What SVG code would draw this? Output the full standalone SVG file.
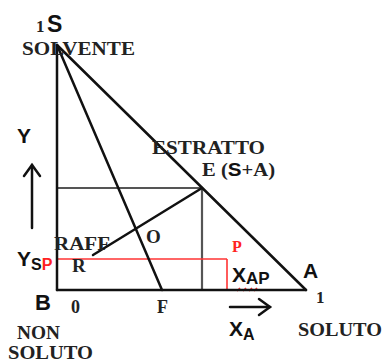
<svg xmlns="http://www.w3.org/2000/svg" width="386" height="363" viewBox="0 0 386 363">
<defs>
<style>
.ln{stroke:#111;stroke-width:2.5;fill:none;stroke-linecap:round}
.gr{stroke:#555;stroke-width:2.2;fill:none}
.rd{stroke:#f33;stroke-width:1.6;fill:none}
.sf{font-family:"Liberation Serif","Times New Roman",serif;font-weight:bold;fill:#222}
.ss{font-family:"Liberation Sans",Arial,sans-serif;font-weight:bold;fill:#111}
.red{fill:#f22}
</style>
</defs>
<rect width="386" height="363" fill="#fff"/>
<g id="connectors">
<line class="gr" x1="57" y1="188" x2="202" y2="188"/>
<line class="gr" x1="202" y1="188" x2="202" y2="290"/>
<line class="rd" x1="57" y1="259" x2="227" y2="259"/>
<line class="rd" x1="227" y1="259" x2="227" y2="290"/>
<path class="rd" d="M237 291 l3 -3 M243 291 l3 -3 M249 291 l3 -3 M254 291 l3 -3"/>
<line class="ln" x1="57" y1="45" x2="57" y2="290"/>
<line class="ln" x1="57" y1="290" x2="306" y2="290"/>
<line class="ln" x1="57" y1="45" x2="306" y2="290"/>
<line class="ln" x1="57" y1="45" x2="162" y2="290"/>
<line class="ln" x1="93" y1="255" x2="202" y2="188"/>
<line class="ln" x1="32" y1="228" x2="32" y2="165"/>
<path class="ln" d="M24 176 L32 165 L40 176"/>
<line class="ln" x1="230" y1="307" x2="270" y2="307"/>
<path class="ln" d="M259 299 L270 307 L259 315"/>
</g>
<g id="S">
<text class="sf" x="36" y="32" font-size="17">1</text>
<text class="ss" x="47" y="32" font-size="23">S</text>
<text class="sf" x="22" y="55" font-size="19" textLength="113" lengthAdjust="spacingAndGlyphs">SOLVENTE</text>
</g>
<g id="Y">
<text class="ss" x="17" y="143" font-size="21">Y</text>
</g>
<g id="E">
<text class="sf" x="152" y="154" font-size="19" textLength="113" lengthAdjust="spacingAndGlyphs">ESTRATTO</text>
<text class="sf" x="202" y="176" font-size="19" textLength="73" lengthAdjust="spacingAndGlyphs">E (<tspan class="ss">S</tspan>+A)</text>
</g>
<g id="O">
<text class="sf" x="146" y="243" font-size="19">O</text>
</g>
<g id="R">
<text class="sf" x="54" y="250" font-size="18" textLength="56" lengthAdjust="spacingAndGlyphs">RAFF</text>
<text class="sf" x="72" y="272" font-size="19">R</text>
</g>
<g id="YSP">
<text class="ss" x="17" y="266" font-size="21">Y<tspan font-size="16" dy="4">S</tspan><tspan class="red" font-size="16">P</tspan></text>
</g>
<g id="P">
<text class="sf red" x="232" y="252" font-size="16">P</text>
</g>
<g id="XAP">
<text class="ss" x="232" y="282" font-size="21">X<tspan font-size="17" dy="2">AP</tspan></text>
</g>
<g id="A">
<text class="ss" x="303" y="278" font-size="21">A</text>
<text class="sf" x="316" y="303" font-size="17">1</text>
<text class="sf" x="298" y="336" font-size="19" textLength="84" lengthAdjust="spacingAndGlyphs">SOLUTO</text>
</g>
<g id="B">
<text class="ss" x="35" y="310" font-size="22">B</text>
<text class="sf" x="71" y="313" font-size="18">0</text>
<text class="sf" x="17" y="339" font-size="19" textLength="43" lengthAdjust="spacingAndGlyphs">NON</text>
<text class="sf" x="8" y="359" font-size="19" textLength="85" lengthAdjust="spacingAndGlyphs">SOLUTO</text>
</g>
<g id="F">
<text class="sf" x="157" y="313" font-size="18">F</text>
</g>
<g id="XA">
<text class="ss" x="229" y="336" font-size="21">X<tspan font-size="16" dy="4">A</tspan></text>
</g>
</svg>
